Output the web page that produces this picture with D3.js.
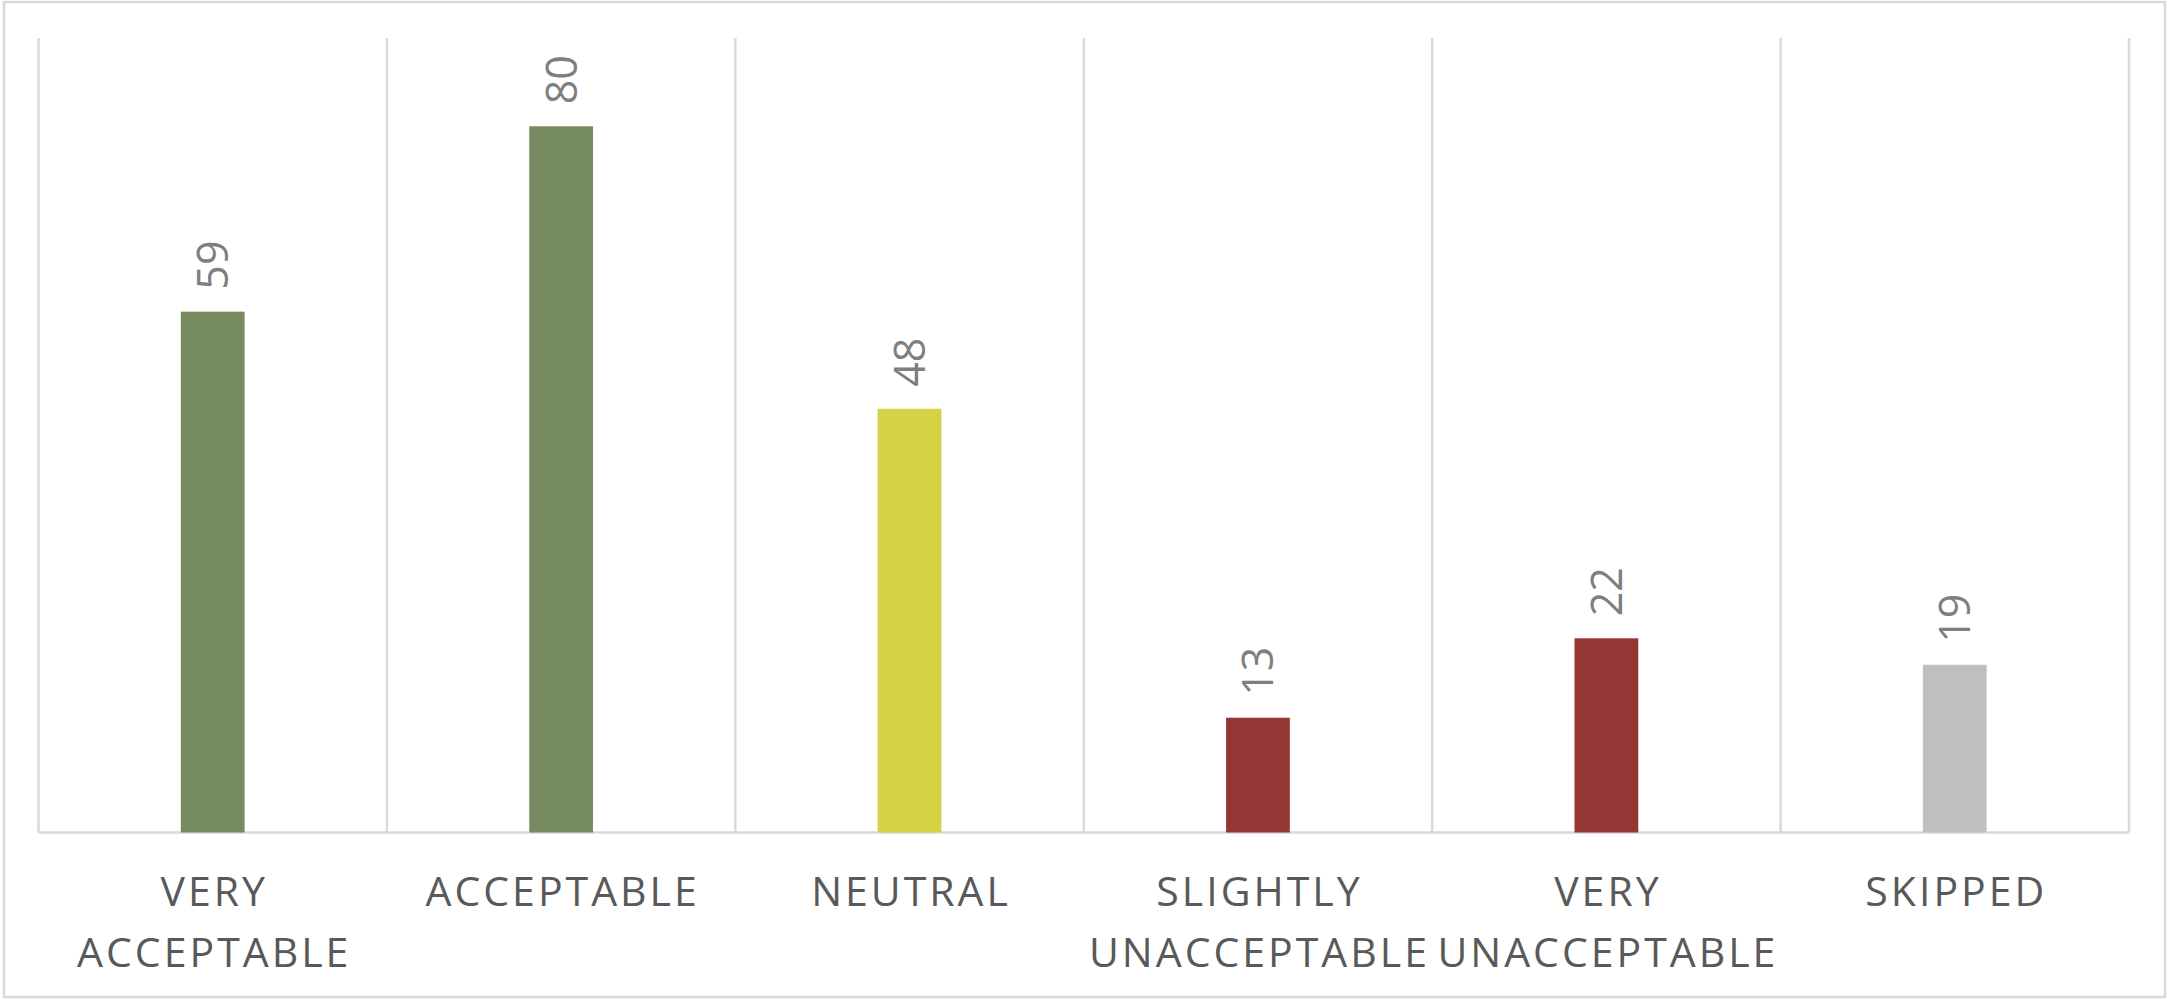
<!DOCTYPE html>
<html lang="en">

<head>
    <meta charset="UTF-8">
    <title>Acceptability Responses</title>
    <script src="https://d3js.org/d3.v7.min.js"></script>
    <style>
        body {
            margin: 0;
            background: #fff;
        }

        .grid {
            stroke: #d9d9d9;
            stroke-width: 2.5px;
        }

        .cat-label {
            font-family: "Open Sans", sans-serif;
            font-size: 41px;
            font-weight: 500;
            letter-spacing: 3px;
            fill: #595959;
        }

        .value-label {
            font-family: "Open Sans", sans-serif;
            font-size: 43px;
            font-weight: 500;
            fill: #7f7f7f;
        }
    </style>
</head>

<body>

    <script>
        const width = 2168;
        const height = 999;

        // Chart data
        const categories = ['VERY ACCEPTABLE', 'ACCEPTABLE', 'NEUTRAL', 'SLIGHTLY UNACCEPTABLE', 'VERY UNACCEPTABLE', 'SKIPPED'];
        const counts = [59, 80, 48, 13, 22, 19];
        const barColors = ['#768b60', '#768b60', '#d7d146', '#943634', '#943634', '#bfbfbf'];
        const yMax = 90;

        const plot = { left: 38.5, right: 2129, top: 38, bottom: 832.5 };

        const svg = d3.select('body').append('svg')
            .attr('width', width)
            .attr('height', height);

        // Outer chart border
        svg.append('rect')
            .attr('x', 4)
            .attr('y', 2)
            .attr('width', 2161)
            .attr('height', 995)
            .attr('fill', '#fff')
            .attr('stroke', '#d9d9d9')
            .attr('stroke-width', 2.5);

        const x = d3.scaleBand()
            .domain(categories)
            .range([plot.left, plot.right]);

        const y = d3.scaleLinear()
            .domain([0, yMax])
            .range([plot.bottom, plot.top]);

        const barWidth = x.bandwidth() * 0.183;

        // Vertical gridlines between categories
        const gridXs = categories.map(c => x(c)).concat([plot.right]);
        svg.selectAll('.vgrid')
            .data(gridXs)
            .enter().append('line')
            .attr('class', 'grid')
            .attr('x1', d => d)
            .attr('x2', d => d)
            .attr('y1', plot.top)
            .attr('y2', plot.bottom);

        // Baseline
        svg.append('line')
            .attr('class', 'grid')
            .attr('x1', plot.left)
            .attr('x2', plot.right)
            .attr('y1', y(0))
            .attr('y2', y(0));

        // Bars
        svg.selectAll('.bar')
            .data(categories)
            .enter().append('rect')
            .attr('class', 'bar')
            .attr('x', c => x(c) + (x.bandwidth() - barWidth) / 2)
            .attr('y', (c, i) => y(counts[i]))
            .attr('width', barWidth)
            .attr('height', (c, i) => y(0) - y(counts[i]))
            .attr('fill', (c, i) => barColors[i]);

        // Value labels, rotated
        svg.selectAll('.value-label')
            .data(categories)
            .enter().append('text')
            .attr('class', 'value-label')
            .attr('transform', (c, i) => `translate(${x(c) + x.bandwidth() / 2},${y(counts[i]) - 22}) rotate(-90)`)
            .attr('dy', '0.36em')
            .text((c, i) => counts[i]);

        // Category labels, one word per line
        const labels = svg.selectAll('.cat-label')
            .data(categories)
            .enter().append('text')
            .attr('class', 'cat-label')
            .attr('text-anchor', 'middle')
            .attr('transform', c => `translate(${x(c) + x.bandwidth() / 2 + 1.5},906)`);

        labels.selectAll('tspan')
            .data(c => c.split(' '))
            .enter().append('tspan')
            .attr('x', 0)
            .attr('y', (w, i) => i * 61)
            .text(w => w);
    </script>

</body>

</html>
